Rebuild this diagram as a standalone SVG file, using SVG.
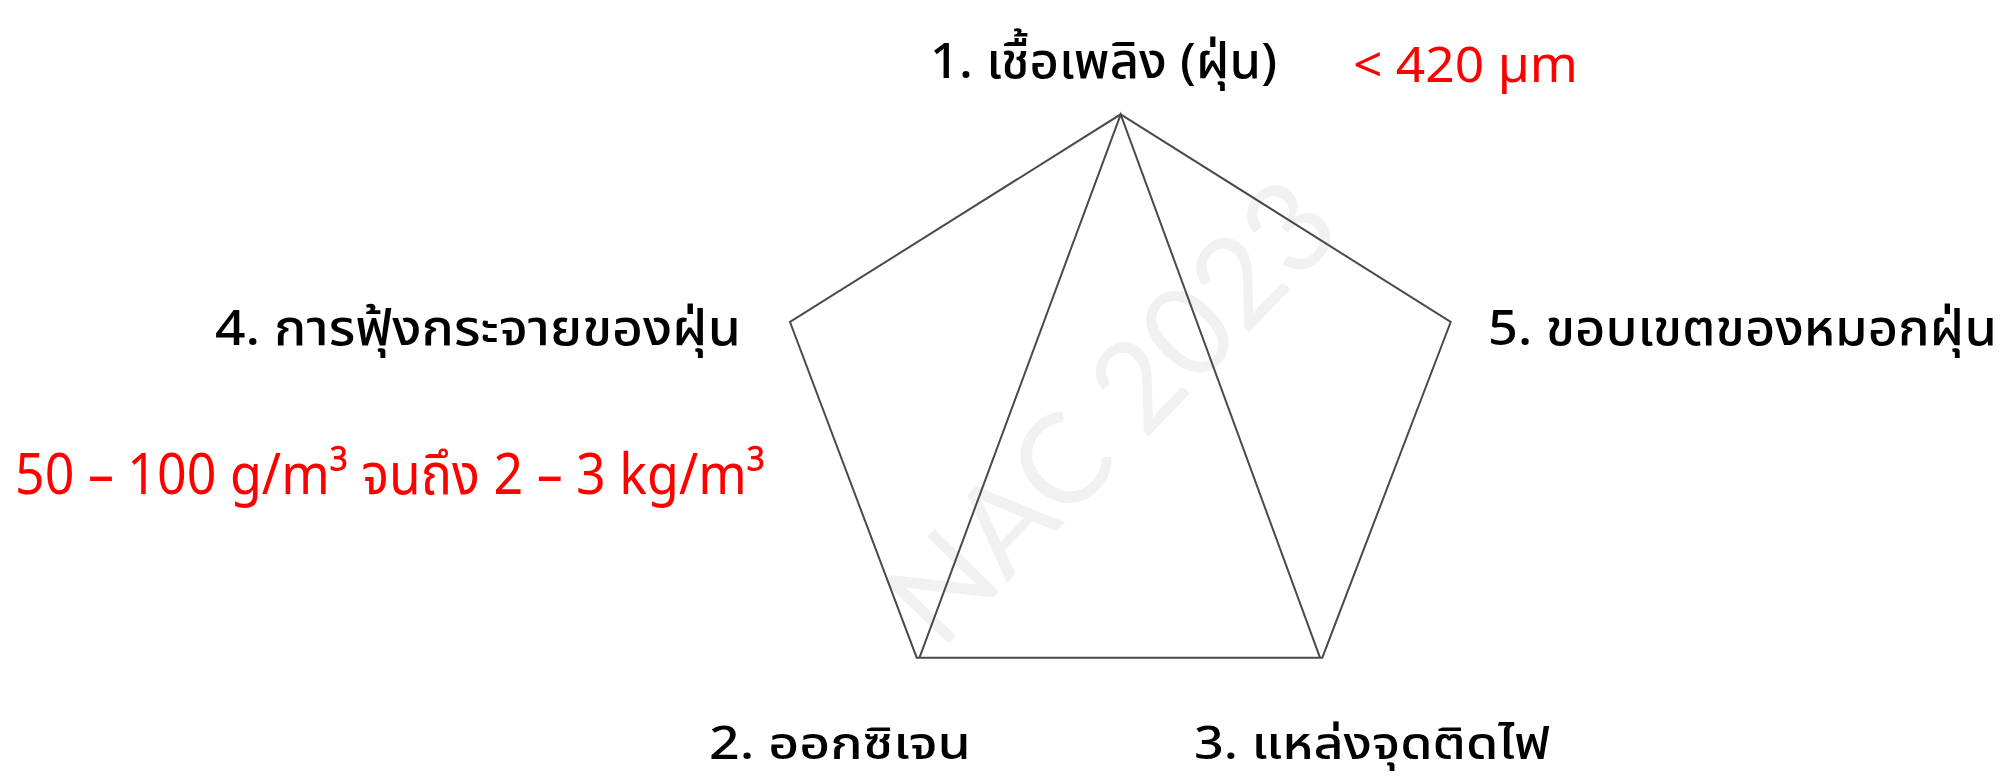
<svg xmlns="http://www.w3.org/2000/svg" width="2003" height="780" viewBox="0 0 2003 780">
<style>
.lbl{font-family:"Noto Sans Thai","Noto Sans","Liberation Sans",sans-serif;font-size:49px;font-weight:500;fill:#000;}
.bot{font-size:45px;}
.red{font-family:"Noto Sans Thai","Noto Sans","Liberation Sans",sans-serif;fill:#ff0000;}
.edge{fill:none;stroke:#4a4a4a;stroke-width:2;stroke-linejoin:miter;}
.wm{font-family:"Lato","Open Sans",sans-serif;font-weight:400;font-size:125px;fill:#f1f1f1;}
</style>
<rect width="2003" height="780" fill="#fff"/>
<text class="wm" x="0" y="0" text-anchor="middle" transform="translate(1143,442) rotate(-46)">NAC 2023</text>
<g id="connectors">
<polygon class="edge" points="1120.7,114.3 1450.7,322 1322.3,657.7 916.7,657.7 790,322"/>
<polyline class="edge" points="919.5,657.7 1120.7,114.3 1320,657.7"/>
</g>
<g id="node1"><text class="lbl" x="930" y="78" textLength="347" lengthAdjust="spacingAndGlyphs">1. เชื้อเพลิง (ฝุ่น)</text></g>
<g id="node1-note"><text class="red" x="1353" y="82" font-size="50" textLength="225" lengthAdjust="spacingAndGlyphs">&lt; 420 µm</text></g>
<g id="node2"><text class="lbl bot" x="709" y="759" textLength="262" lengthAdjust="spacingAndGlyphs">2. ออกซิเจน</text></g>
<g id="node3"><text class="lbl bot" x="1194" y="759" textLength="356" lengthAdjust="spacingAndGlyphs">3. แหล่งจุดติดไฟ</text></g>
<g id="node4"><text class="lbl" x="215" y="345" textLength="526" lengthAdjust="spacingAndGlyphs">4. การฟุ้งกระจายของฝุ่น</text></g>
<g id="node4-note"><text class="red" x="15" y="494" font-size="57" textLength="750" lengthAdjust="spacingAndGlyphs">50 – 100 g/m³ จนถึง 2 – 3 kg/m³</text></g>
<g id="node5"><text class="lbl" x="1488" y="345" textLength="509" lengthAdjust="spacingAndGlyphs">5. ขอบเขตของหมอกฝุ่น</text></g>
</svg>
